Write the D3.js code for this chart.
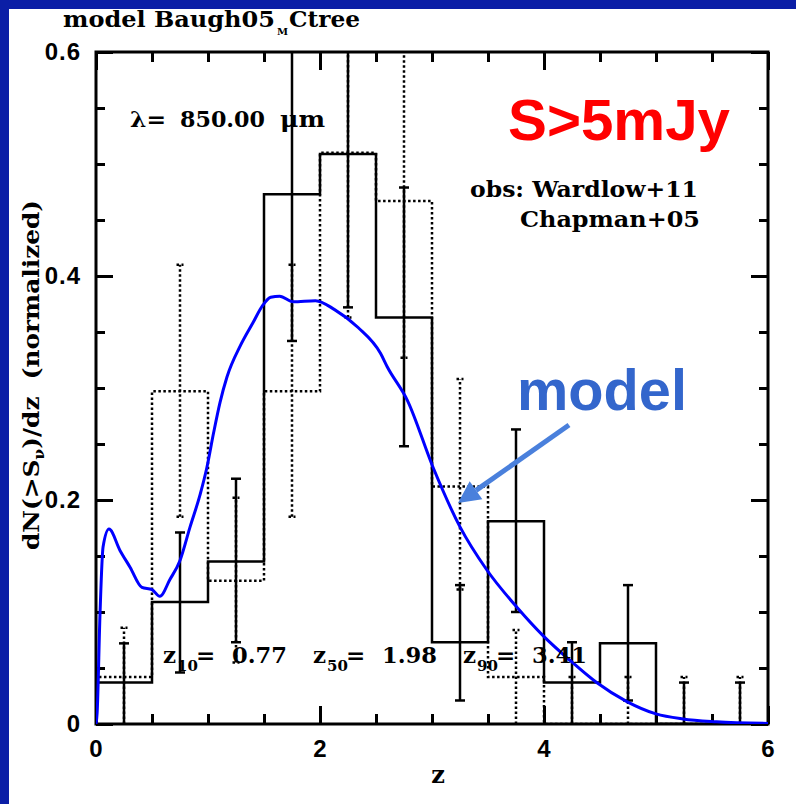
<!DOCTYPE html>
<html>
<head>
<meta charset="utf-8">
<script src="https://cdn.jsdelivr.net/npm/d3@7"></script>
<style>
  body { margin: 0; background: #fff; }
  svg { display: block; }
</style>
</head>
<body>
<svg id="chart"></svg>
<script>
// redshift bins (lower edge, upper edge, centre)
const binLo  = [0, 0.5, 1, 1.5, 2, 2.5, 3, 3.5, 4, 4.5, 5, 5.5];
const binHi  = [0.5, 1, 1.5, 2, 2.5, 3, 3.5, 4, 4.5, 5, 5.5, 6];
const binMid = [0.25, 0.75, 1.25, 1.75, 2.25, 2.75, 3.25, 3.75, 4.25, 4.75, 5.25, 5.75];

// Wardlow+11 (solid)
const wardlow   = [0.037, 0.109, 0.145, 0.473, 0.509, 0.363, 0.073, 0.181, 0.037, 0.072, 0, 0];
const wardlowLo = [0, 0.046, 0.073, 0.342, 0.372, 0.248, 0.021, 0.100, 0, 0.021, 0, 0];
const wardlowHi = [0.072, 0.171, 0.219, 0.70, 0.70, 0.479, 0.124, 0.263, 0.073, 0.124, 0.037, 0.037];

// Chapman+05 (dotted)
const chapman   = [0.042, 0.297, 0.128, 0.297, 0.510, 0.467, 0.212, 0.042, 0, 0, 0, 0];
const chapmanLo = [0, 0.185, 0.055, 0.185, 0.363, 0.327, 0.120, 0, 0, 0, 0, 0];
const chapmanHi = [0.086, 0.410, 0.202, 0.410, 0.70, 0.70, 0.308, 0.084, 0.042, 0.042, 0.042, 0.042];

// model curve
const modelZ = [0, 0.01, 0.036, 0.063, 0.116, 0.214, 0.304, 0.41, 0.5, 0.57, 0.66, 0.75, 0.84, 0.93,
                0.99, 1.05, 1.107, 1.17, 1.29, 1.40, 1.49, 1.56, 1.64, 1.76, 1.96, 2.13, 2.34, 2.54, 2.6, 2.78,
                3.01, 3.25, 3.49, 3.76, 4.0, 4.23, 4.47, 4.74, 5.0, 5.24, 5.54, 6.0];
const modelN = [0, 0.01, 0.099, 0.158, 0.174, 0.155, 0.14, 0.122, 0.12, 0.114, 0.129, 0.146, 0.176, 0.205,
                0.229, 0.26, 0.287, 0.31, 0.338, 0.358, 0.374, 0.381, 0.382, 0.377, 0.378, 0.37, 0.354, 0.331, 0.319, 0.289,
                0.229, 0.176, 0.1375, 0.104, 0.078, 0.057, 0.037, 0.020, 0.009, 0.0045, 0.002, 0.0005];

const xMajor = [0, 2, 4, 6];
const xMinor = [0, 0.5, 1, 1.5, 2, 2.5, 3, 3.5, 4, 4.5, 5, 5.5, 6];
const yMajor = [0, 0.2, 0.4, 0.6];
const yMinor = [0, 0.05, 0.1, 0.15, 0.2, 0.25, 0.3, 0.35, 0.4, 0.45, 0.5, 0.55, 0.6];

const zSubs = ["10", "50", "90"];
const zVals = ["0.77", "1.98", "3.41"];

const W = 796, H = 804;
const serif = "'DejaVu Serif', serif";
const sans = "'Liberation Sans', Arial, sans-serif";

const svg = d3.select("#chart").attr("width", W).attr("height", H);
svg.append("rect").attr("width", W).attr("height", H).attr("fill", "#fff");
// blue slide frame
svg.append("rect").attr("x", 0).attr("y", 0).attr("width", W).attr("height", 9).attr("fill", "#0b1ea6");
svg.append("rect").attr("x", 0).attr("y", 0).attr("width", 9).attr("height", H).attr("fill", "#0b1ea6");

const x = d3.scaleLinear().domain([0, 6]).range([96, 768]);
const y = d3.scaleLinear().domain([0, 0.6]).range([724, 52]);

svg.append("clipPath").attr("id", "plot")
  .append("rect").attr("x", 96).attr("y", 52).attr("width", 672).attr("height", 672);

// ticks (inward on all four sides)
function ticks(axis, tx, ty, vals, size) {
  const g = svg.append("g").attr("transform", `translate(${tx},${ty})`)
    .call(axis.tickValues(vals).tickSize(size).tickFormat(""));
  g.select(".domain").remove();
  g.selectAll(".tick line").attr("stroke", "#000").attr("stroke-width", 3);
}
ticks(d3.axisTop(x), 0, 724, xMinor, 10);
ticks(d3.axisTop(x), 0, 724, xMajor, 18);
ticks(d3.axisBottom(x), 0, 52, xMinor, 10);
ticks(d3.axisBottom(x), 0, 52, xMajor, 18);
ticks(d3.axisRight(y), 96, 0, yMinor, 9);
ticks(d3.axisRight(y), 96, 0, yMajor, 17);
ticks(d3.axisLeft(y), 768, 0, yMinor, 9);
ticks(d3.axisLeft(y), 768, 0, yMajor, 17);

// tick labels
const yFmt = d => d === 0 ? "0" : d3.format(".1f")(d);
const xl = svg.append("g").attr("transform", "translate(0,724)")
  .call(d3.axisBottom(x).tickValues(xMajor).tickSize(0).tickPadding(16).tickFormat(d3.format("d")));
const yl = svg.append("g").attr("transform", "translate(96,0)")
  .call(d3.axisLeft(y).tickValues(yMajor).tickSize(0).tickPadding(15).tickFormat(yFmt));
[xl, yl].forEach(g => {
  g.select(".domain").remove();
  g.selectAll("text").attr("font-family", sans).attr("font-weight", "bold")
    .attr("font-size", 24).attr("letter-spacing", 1).attr("fill", "#000");
});

// plot frame
svg.append("rect").attr("x", 96).attr("y", 52).attr("width", 672).attr("height", 672)
  .attr("fill", "none").attr("stroke", "#000").attr("stroke-width", 3);

const plot = svg.append("g").attr("clip-path", "url(#plot)");

function stepPoints(vals) {
  const pts = [[0, 0]];
  vals.forEach((v, i) => { pts.push([binLo[i], v]); pts.push([binHi[i], v]); });
  pts.push([6, 0]);
  return pts;
}
const line = d3.line().x(d => x(d[0])).y(d => y(d[1]));

// Chapman+05 dotted histogram
plot.append("path").attr("d", line(stepPoints(chapman)))
  .attr("fill", "none").attr("stroke", "#000").attr("stroke-width", 2.5)
  .attr("stroke-dasharray", "2.5,2.5");
// Wardlow+11 solid histogram
plot.append("path").attr("d", line(stepPoints(wardlow)))
  .attr("fill", "none").attr("stroke", "#000").attr("stroke-width", 2.5);

// error bars
function errBars(lo, hi, dash, capW) {
  const g = plot.append("g").attr("stroke", "#000").attr("stroke-width", 2.5)
    .attr("stroke-dasharray", dash);
  binMid.forEach((z, i) => {
    g.append("line").attr("x1", x(z)).attr("x2", x(z)).attr("y1", y(lo[i])).attr("y2", y(hi[i]));
    [lo[i], hi[i]].forEach(v => {
      if (v > 0 && v < 0.6)
        g.append("line").attr("x1", x(z) - capW / 2).attr("x2", x(z) + capW / 2)
          .attr("y1", y(v)).attr("y2", y(v));
    });
  });
}
errBars(chapmanLo, chapmanHi, "2.5,2.5", 7);
errBars(wardlowLo, wardlowHi, null, 10);

// model curve
plot.append("path")
  .attr("d", d3.line().x(d => x(d)).y((d, i) => y(modelN[i])).curve(d3.curveMonotoneX)(modelZ))
  .attr("fill", "none").attr("stroke", "#0000ff").attr("stroke-width", 3);

// texts
function txt(s, tx, ty, size, opts = {}) {
  const t = svg.append("text").attr("x", tx).attr("y", ty)
    .attr("font-family", opts.family || serif).attr("font-weight", "bold")
    .attr("font-size", size).attr("fill", opts.fill || "#000").text(s);
  if (opts.anchor) t.attr("text-anchor", opts.anchor);
  if (opts.len) t.attr("textLength", opts.len).attr("lengthAdjust", "spacingAndGlyphs");
  return t;
}
txt("model Baugh05", 63, 27, 22, { len: 212 });
txt("M", 277, 35, 10);
txt("Ctree", 289, 27, 22, { len: 71 });

txt("λ=", 130, 127, 23, { len: 36 });
txt("850.00", 180, 127, 23, { len: 85 });
txt("μm", 280, 127, 23, { len: 45 });

txt("obs: Wardlow+11", 470, 197, 23, { len: 228 });
txt("Chapman+05", 520, 227, 23, { len: 180 });

zSubs.forEach((s, i) => {
  const dx = i * 150;
  txt("z", 163 + dx, 663, 23);
  txt(s, 177 + dx, 671, 15);
  txt("=", 196 + dx, 663, 23);
  txt(zVals[i], 232 + dx, 663, 23, { len: 55 });
});

txt("z", 438, 783, 24, { anchor: "middle" });

const yt = svg.append("text").attr("transform", "translate(39,375) rotate(-90)")
  .attr("text-anchor", "middle").attr("font-family", serif).attr("font-weight", "bold")
  .attr("font-size", 22).attr("fill", "#000");
yt.append("tspan").text("dN(>S");
yt.append("tspan").attr("font-size", 14).attr("dy", 5).text("ν");
yt.append("tspan").attr("dy", -5).text(")/dz\u00a0\u00a0(normalized)");
yt.attr("textLength", 350).attr("lengthAdjust", "spacingAndGlyphs");

txt("S>5mJy", 508, 140, 58, { family: sans, fill: "#ff0000", len: 222 });
txt("model", 517, 410, 57, { family: sans, fill: "#3366cc", len: 170 });

// arrow
const ax1 = 569, ay1 = 425, ax2 = 458, ay2 = 503;
const ang = Math.atan2(ay2 - ay1, ax2 - ax1);
const hl = 22, hw = 11;
const bx = ax2 - hl * Math.cos(ang), by = ay2 - hl * Math.sin(ang);
svg.append("line").attr("x1", ax1).attr("y1", ay1).attr("x2", bx).attr("y2", by)
  .attr("stroke", "#4a80dc").attr("stroke-width", 5);
svg.append("path")
  .attr("d", `M${ax2},${ay2}L${bx + hw * Math.sin(ang)},${by - hw * Math.cos(ang)}L${bx - hw * Math.sin(ang)},${by + hw * Math.cos(ang)}Z`)
  .attr("fill", "#4a80dc");
</script>
</body>
</html>
